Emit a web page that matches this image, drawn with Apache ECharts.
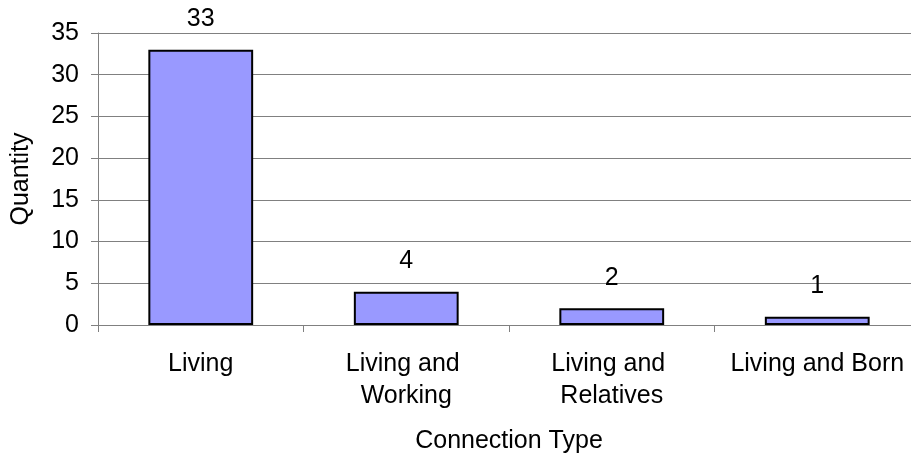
<!DOCTYPE html>
<html>
<head>
<meta charset="utf-8">
<script src="https://cdn.jsdelivr.net/npm/echarts@6/dist/echarts.min.js"></script>
<style>
  html, body { margin: 0; padding: 0; background: #fff; }
  #chart { width: 911px; height: 464px; }
</style>
</head>
<body>
<div id="chart"></div>
<script>
const categories = ['Living', 'Living and Working', 'Living and Relatives', 'Living and Born']
const quantities = [33, 4, 2, 1]
const yMin = 0
const yMax = 35
const yStep = 5

const chart = echarts.init(document.getElementById('chart'))
const font = 'Liberation Sans, Arial, sans-serif'
const fs = 25
const option = {
  animation: false,
  grid: {
    left: 98,
    right: -9,
    top: 33,
    bottom: 139,
    outerBoundsMode: 'none',
    containLabel: false
  },
  xAxis: {
    type: 'category',
    data: categories,
    name: 'Connection Type',
    nameLocation: 'middle',
    nameGap: 104,
    nameTextStyle: { color: '#000', fontFamily: font, fontSize: fs },
    axisLine: { lineStyle: { color: '#808080', width: 1 } },
    axisTick: { show: true, length: 7, lineStyle: { color: '#808080' } },
    axisLabel: {
      color: '#000',
      fontFamily: font,
      fontSize: fs,
      lineHeight: 32,
      margin: 23,
      width: 195,
      overflow: 'break',
      interval: 0
    }
  },
  yAxis: {
    type: 'value',
    min: yMin,
    max: yMax,
    interval: yStep,
    name: 'Quantity',
    nameLocation: 'middle',
    nameGap: 64,
    nameTextStyle: { color: '#000', fontFamily: font, fontSize: fs },
    axisLine: { show: true, lineStyle: { color: '#808080', width: 1 } },
    axisTick: { show: true, length: 7, lineStyle: { color: '#808080' } },
    splitLine: { show: true, lineStyle: { color: '#808080', width: 1 } },
    axisLabel: { color: '#000', fontFamily: font, fontSize: fs, margin: 19 }
  },
  series: [{
    type: 'bar',
    data: quantities,
    barWidth: '51%',
    itemStyle: { color: '#9999ff', borderColor: '#000', borderWidth: 2 },
    label: {
      show: true,
      position: 'top',
      distance: 18,
      color: '#000',
      fontFamily: font,
      fontSize: fs
    }
  }]
}
chart.setOption(option)
</script>
</body>
</html>
